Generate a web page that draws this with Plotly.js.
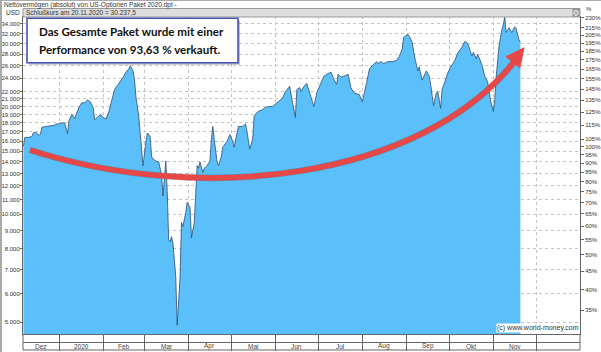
<!DOCTYPE html>
<html>
<head>
<meta charset="utf-8">
<script src="https://cdn.plot.ly/plotly-3.0.1.min.js"></script>
<style>html,body{margin:0;padding:0;background:#fff;}#chart{width:601px;height:352px;}</style>
</head>
<body>
<div id="chart"></div>
<script>
// ---- data ----
const dates = [
'2019-12-07','2019-12-08','2019-12-11','2019-12-13','2019-12-14','2019-12-16','2019-12-18','2019-12-19','2019-12-20','2019-12-23','2019-12-25','2019-12-27','2019-12-29','2019-12-30',
'2020-01-01','2020-01-03','2020-01-05','2020-01-07','2020-01-08','2020-01-10','2020-01-12','2020-01-13','2020-01-15','2020-01-17','2020-01-19','2020-01-21','2020-01-23','2020-01-25','2020-01-26','2020-01-28','2020-01-30',
'2020-02-01','2020-02-03','2020-02-05','2020-02-07','2020-02-09','2020-02-11','2020-02-13','2020-02-15','2020-02-17','2020-02-19','2020-02-20','2020-02-22','2020-02-23','2020-02-24','2020-02-26','2020-02-27','2020-02-29',
'2020-03-02','2020-03-03','2020-03-05','2020-03-06','2020-03-07','2020-03-09','2020-03-11','2020-03-13','2020-03-14','2020-03-15','2020-03-16','2020-03-17','2020-03-18','2020-03-19','2020-03-20','2020-03-21','2020-03-23','2020-03-24','2020-03-26','2020-03-27','2020-03-28','2020-03-30','2020-03-31',
'2020-04-02','2020-04-03','2020-04-05','2020-04-06','2020-04-07','2020-04-08','2020-04-09','2020-04-11','2020-04-12','2020-04-14','2020-04-16','2020-04-17','2020-04-18','2020-04-19','2020-04-21','2020-04-22','2020-04-24','2020-04-25','2020-04-28','2020-04-30',
'2020-05-02','2020-05-03','2020-05-05','2020-05-06','2020-05-09','2020-05-11','2020-05-12','2020-05-14','2020-05-16','2020-05-17','2020-05-19','2020-05-20','2020-05-23','2020-05-25','2020-05-27','2020-05-30',
'2020-06-03','2020-06-06','2020-06-08','2020-06-10','2020-06-11','2020-06-13','2020-06-15','2020-06-16','2020-06-18','2020-06-19','2020-06-21','2020-06-23','2020-06-25','2020-06-26','2020-06-28','2020-06-30',
'2020-07-03','2020-07-05','2020-07-07','2020-07-10','2020-07-12','2020-07-14','2020-07-15','2020-07-17','2020-07-19','2020-07-22','2020-07-24','2020-07-26','2020-07-30',
'2020-08-01','2020-08-04','2020-08-06','2020-08-08','2020-08-11','2020-08-12','2020-08-14','2020-08-16','2020-08-19','2020-08-22','2020-08-25','2020-08-27','2020-08-29','2020-08-30',
'2020-09-01','2020-09-02','2020-09-03','2020-09-05','2020-09-07','2020-09-09','2020-09-10','2020-09-12','2020-09-15','2020-09-17','2020-09-18','2020-09-20','2020-09-22','2020-09-23','2020-09-25','2020-09-26','2020-09-28','2020-09-30',
'2020-10-02','2020-10-05','2020-10-07','2020-10-10','2020-10-12','2020-10-14','2020-10-17','2020-10-18','2020-10-20','2020-10-21','2020-10-24','2020-10-26','2020-10-28','2020-10-30',
'2020-11-01','2020-11-02','2020-11-03','2020-11-05','2020-11-07','2020-11-08','2020-11-09','2020-11-10','2020-11-12','2020-11-14','2020-11-16','2020-11-17','2020-11-19','2020-11-20'
];
const netValues = [
15500,16400,16400,16500,16900,16900,16600,16800,17500,17600,17600,17750,17750,17880,
17880,18000,18000,16800,18250,19000,18500,19000,19880,20500,20500,20870,20620,19880,18370,18650,19000,
18650,18450,19350,20870,22300,22900,23450,24150,24950,25480,26000,25150,23850,21300,18760,16700,13650,
15900,16880,16500,14500,14270,14090,14000,12900,11250,12900,14090,11580,8500,8370,8660,8320,6690,4900,6690,9490,9240,10130,10790,
10450,8600,9490,11580,13680,13450,14000,13080,13450,13680,14090,16200,17600,16200,14000,13680,14500,15400,16000,16700,
16000,15400,17000,17600,17600,17880,17000,15200,16200,18760,19250,19380,19620,19880,20000,20000,
20620,21140,22000,22600,22770,20500,18650,22300,22600,22000,22770,23200,21850,21140,20000,21850,
23300,24300,24600,24950,23850,23050,24600,24150,24300,24600,22600,21850,21560,
20620,23300,25480,26000,26700,26350,26700,26350,26700,26700,26870,27650,28900,31200,
31600,31800,31400,30200,27200,25150,25800,23700,25150,24300,23050,20120,21850,22000,19750,22300,23450,24800,
25800,26870,28200,29300,30400,30000,27650,28350,27200,28000,26170,24300,23450,20870,
19370,20870,24150,29500,32800,33800,35500,32200,33200,32200,33400,33000,30700,30237.5
];
const usdTicks = [5000,6000,7000,8000,9000,10000,11000,12000,13000,14000,15000,16000,17000,18000,19000,20000,21000,22000,24000,26000,28000,30000,32000,34000];
const pctTicks = [35,40,45,50,55,60,65,70,75,80,85,90,95,100,105,115,125,135,145,155,165,175,185,195,205,215,230];
const performanceBase = 15420; // value that equals 100 %
const monthStarts = ['2019-12-01','2020-01-01','2020-02-01','2020-03-01','2020-04-01','2020-05-01','2020-06-01','2020-07-01','2020-08-01','2020-09-01','2020-10-01','2020-11-01','2020-12-01'];
const monthLabels = ['Dez','2020','Feb','Mar','Apr','Mai','Jun','Jul','Aug','Sep','Okt','Nov',''];
const xStart = '2019-12-06 17:00', xEnd = '2020-12-31 21:00';

// ---- helpers ----
const fmt = v => String(v).replace(/\B(?=(\d{3})+(?!\d))/g, '.');
const yRange = [3.6656, 4.5538];
const shift = Math.log10(performanceBase / 100);
const tf = {family: 'Liberation Sans, Arial, sans-serif', size: 6, color: '#333'};
const hf = {family: 'Liberation Sans, Arial, sans-serif', size: 6.5, color: '#333'};
const toMs = s => new Date(s.replace(' ', 'T') + (s.length > 10 ? ':00Z' : 'T00:00:00Z')).getTime();
const msToStr = ms => new Date(ms).toISOString().slice(0,19).replace('T',' ');

const annotations = [];
const shapes = [];
for (let i = 0; i < monthStarts.length; i++) {
  if (!monthLabels[i]) continue;
  const a = Math.max(toMs(monthStarts[i]), toMs(xStart));
  const b = i + 1 < monthStarts.length ? toMs(monthStarts[i+1]) : toMs(xEnd);
  annotations.push({xref:'x', yref:'paper', x: msToStr((a+b)/2), y: -0.038, text: monthLabels[i], showarrow:false, xanchor:'center', yanchor:'middle', font: {family: tf.family, size: 6.5, color: '#444'}});
}
shapes.push({type:'line', xref:'paper', yref:'paper', x0:0, x1:1, y0:-0.0267, y1:-0.0267, line:{color:'#666', width:1}});
shapes.push({type:'line', xref:'paper', yref:'paper', x0:0, x1:1, y0:-0.0503, y1:-0.0503, line:{color:'#666', width:1}});
shapes.push({type:'line', xref:'paper', yref:'paper', x0:0, x1:0, y0:0, y1:-0.0503, line:{color:'#666', width:1}});
shapes.push({type:'line', xref:'paper', yref:'paper', x0:1, x1:1, y0:0, y1:-0.0503, line:{color:'#666', width:1}});
shapes.push({type:'rect', xref:'paper', yref:'paper', x0:0, x1:1, y0:0.9969, y1:1.0235, fillcolor:'#dedede', line:{color:'#999', width:1}});
shapes.push({type:'rect', xref:'paper', yref:'paper', x0:0.9875, x1:0.9982, y0:0.9995, y1:1.0205, fillcolor:'#eee', line:{color:'#777', width:0.8}});
shapes.push({type:'line', xref:'paper', yref:'paper', x0:0.9875, x1:0.9982, y0:0.9995, y1:1.0205, line:{color:'#777', width:0.8}});
shapes.push({type:'line', xref:'paper', yref:'paper', x0:0.9875, x1:0.9982, y0:1.0205, y1:0.9995, line:{color:'#777', width:0.8}});
shapes.push({type:'line', xref:'paper', yref:'paper', x0:-0.0395, x1:-0.0395, y0:1.06, y1:-0.06, line:{color:'#aaa', width:2}});
shapes.push({type:'line', xref:'paper', yref:'paper', x0:-0.05, x1:1.05, y0:1.0487, y1:1.0487, line:{color:'#aaa', width:1}});
shapes.push({type:'rect', xref:'paper', yref:'paper', x0:0.0108, x1:0.3896, y0:0.8468, y1:0.9866, fillcolor:'rgba(120,120,120,0.45)', line:{width:0}});
shapes.push({type:'rect', xref:'paper', yref:'paper', x0:0.0072, x1:0.386, y0:0.8531, y1:0.9928, fillcolor:'#fff', line:{color:'#4656b8', width:1.6}});
const curve = 'M 0.01257,0.5786 C 0.3178,0.4057 0.7127,0.4843 0.8815,0.8553';
shapes.push({type:'path', xref:'paper', yref:'paper', path: curve, line:{color:'rgba(90,60,60,0.35)', width:6.5}, layer:'above'});
shapes.push({type:'path', xref:'paper', yref:'paper', path: curve, line:{color:'#e84747', width:5.5}, layer:'above'});
shapes.push({type:'path', xref:'paper', yref:'paper', path: 'M 0.8995,0.9000 L 0.8920,0.8370 L 0.8670,0.8720 Z', fillcolor:'#e84747', line:{color:'#e84747', width:1}, layer:'above'});

annotations.push({xref:'paper', yref:'paper', x:-0.0377, y:1.0346, text:'Nettovermögen (absolut) von US-Optionen Paket 2020.dpt -', showarrow:false, xanchor:'left', yanchor:'middle', font: hf});
annotations.push({xref:'paper', yref:'paper', x:-0.0341, y:1.0095, text:'USD', showarrow:false, xanchor:'left', yanchor:'middle', font: hf});
annotations.push({xref:'paper', yref:'paper', x:0.002, y:1.0095, text:'Schlußkurs am 20.11.2020 = 30.237,5', showarrow:false, xanchor:'left', yanchor:'middle', font: hf});
annotations.push({xref:'paper', yref:'paper', x:1.0162, y:1.0205, text:'%', showarrow:false, xanchor:'center', yanchor:'middle', font: tf});
annotations.push({xref:'paper', yref:'paper', x:1.0, y:0.0189, text:'(c) www.world-money.com', showarrow:false, xanchor:'right', yanchor:'middle', bgcolor:'#fff', borderpad:0, font: {family: tf.family, size: 7, color:'#333'}});
const boxFont = {family:'Lato, Open Sans, sans-serif', size:11.6, color:'#111'};
annotations.push({xref:'paper', yref:'paper', x:0.025, y:0.9497, text:'<b>Das Gesamte Paket wurde mit einer</b>', showarrow:false, xanchor:'left', yanchor:'middle', font: boxFont});
annotations.push({xref:'paper', yref:'paper', x:0.025, y:0.8962, text:'<b>Performance von 93,63 % verkauft.</b>', showarrow:false, xanchor:'left', yanchor:'middle', font: boxFont});

const traces = [
  {x: dates, y: netValues, type:'scatter', mode:'lines', line:{color:'#2d4d70', width:0.8}, fill:'tozeroy', fillcolor:'#5bbff9', hoverinfo:'skip'},
  {x: [], y: [], type:'scatter', mode:'lines', yaxis:'y2', hoverinfo:'skip'}
];

const layout = {
  width: 601, height: 352,
  margin: {l:23, r:21, t:16, b:18, pad:0},
  paper_bgcolor:'#fff', plot_bgcolor:'#fff', showlegend:false,
  xaxis: {type:'date', range:[xStart, xEnd], tickvals: monthStarts.slice(1), showticklabels:false, ticks:'outside', ticklen:16, tickcolor:'#666', tickwidth:1,
          showgrid:true, gridcolor:'#c4c4c4', griddash:'dot', gridwidth:1, showline:true, linecolor:'#666', linewidth:1, zeroline:false, fixedrange:true},
  yaxis: {type:'log', range:yRange, tickvals: usdTicks, ticktext: usdTicks.map(fmt), ticks:'outside', ticklen:2, tickcolor:'#666', tickfont: tf, ticklabelstandoff:-1,
          showgrid:true, gridcolor:'#c4c4c4', griddash:'dot', gridwidth:1, showline:true, linecolor:'#666', linewidth:1, zeroline:false, fixedrange:true},
  yaxis2: {type:'log', overlaying:'y', side:'right', range:[yRange[0]-shift, yRange[1]-shift], tickvals: pctTicks, ticktext: pctTicks.map(p => p + '%'),
          ticks:'outside', ticklen:3, tickcolor:'#666', tickfont: tf, showgrid:false, showline:true, linecolor:'#666', linewidth:1, zeroline:false, fixedrange:true},
  shapes: shapes,
  annotations: annotations
};
Plotly.newPlot('chart', traces, layout, {staticPlot:true, displayModeBar:false});
</script>
</body>
</html>
